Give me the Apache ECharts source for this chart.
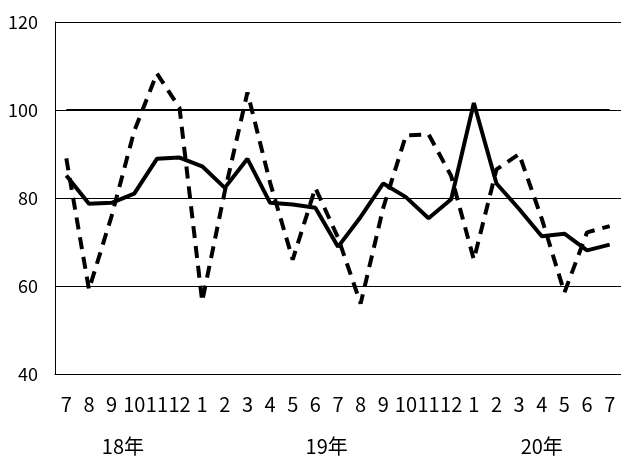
<!DOCTYPE html>
<html>
<head>
<meta charset="UTF-8">
<title>chart</title>
<script src="https://cdn.jsdelivr.net/npm/echarts@6/dist/echarts.min.js"></script>
<style>
  html, body { margin: 0; padding: 0; background: #fff; }
  #main { width: 621px; height: 462px; }
</style>
</head>
<body>
<div id="main"></div>
<script>
  // 月 (2018/7 - 2020/7)
  var months = ['7','8','9','10','11','12','1','2','3','4','5','6','7','8','9','10','11','12','1','2','3','4','5','6','7'];
  // 年ラベル（カテゴリ番号の位置）
  var yearLabels = ['18年', '19年', '20年'];
  var yearPos = [2.5, 11.5, 21];
  // 実線
  var solidVals = [85.1, 78.7, 78.9, 81.0, 88.9, 89.2, 87.2, 82.3, 88.9, 78.9, 78.5, 77.8, 68.9,
                   75.7, 83.3, 80.2, 75.4, 79.7, 101.6, 83.3, 77.5, 71.3, 71.9, 68.1, 69.4];
  // 破線
  var dashVals = [89, 59.2, 75.9, 95.2, 108.3, 100.5, 56.5, 81.5, 104, 83.5, 66, 82.3, 71,
                  56, 77.8, 94.2, 94.5, 85, 66, 86.5, 90, 75.3, 58.5, 72.2, 73.6];
  var baseValue = 100;

  var font = '"Noto Sans CJK JP", "Noto Sans", sans-serif';
  var myChart = echarts.init(document.getElementById('main'));
  var option = {
    animation: false,
    grid: { left: 55, top: 22, right: -1, bottom: 88 },
    xAxis: [
      {
        type: 'category',
        data: months,
        boundaryGap: true,
        axisLine: { lineStyle: { color: '#000', width: 1 } },
        axisTick: { show: false },
        axisLabel: { interval: 0, hideOverlap: false, margin: 20, color: '#000', fontSize: 20, fontFamily: font }
      },
      {
        type: 'value',
        position: 'bottom',
        min: -0.5,
        max: months.length - 0.5,
        axisLine: { show: false },
        axisTick: { show: false },
        splitLine: { show: false },
        axisLabel: {
          customValues: yearPos,
          margin: 62,
          color: '#000',
          fontSize: 20,
          fontFamily: font,
          formatter: function (v) {
            var i = yearPos.indexOf(v);
            return i >= 0 ? yearLabels[i] : '';
          }
        }
      }
    ],
    yAxis: {
      type: 'value',
      min: 40,
      max: 120,
      interval: 20,
      axisLine: { show: true, onZero: false, lineStyle: { color: '#000', width: 1 } },
      axisTick: { show: false },
      splitLine: { lineStyle: { color: '#000', width: 1 } },
      axisLabel: { margin: 17, color: '#000', fontSize: 18, fontFamily: font }
    },
    series: [
      {
        name: 'dash',
        type: 'line',
        data: dashVals,
        symbol: 'none',
        lineStyle: { color: '#000', width: 4, type: [12, 8], cap: 'butt' }
      },
      {
        name: 'solid',
        type: 'line',
        data: solidVals,
        symbol: 'none',
        lineStyle: { color: '#000', width: 4 },
        markLine: {
          symbol: 'none',
          silent: true,
          label: { show: false },
          lineStyle: { color: '#000', width: 2, type: 'solid' },
          data: [[{ coord: [0, baseValue] }, { coord: [months.length - 1, baseValue] }]]
        }
      }
    ]
  };
  myChart.setOption(option);
</script>
</body>
</html>
